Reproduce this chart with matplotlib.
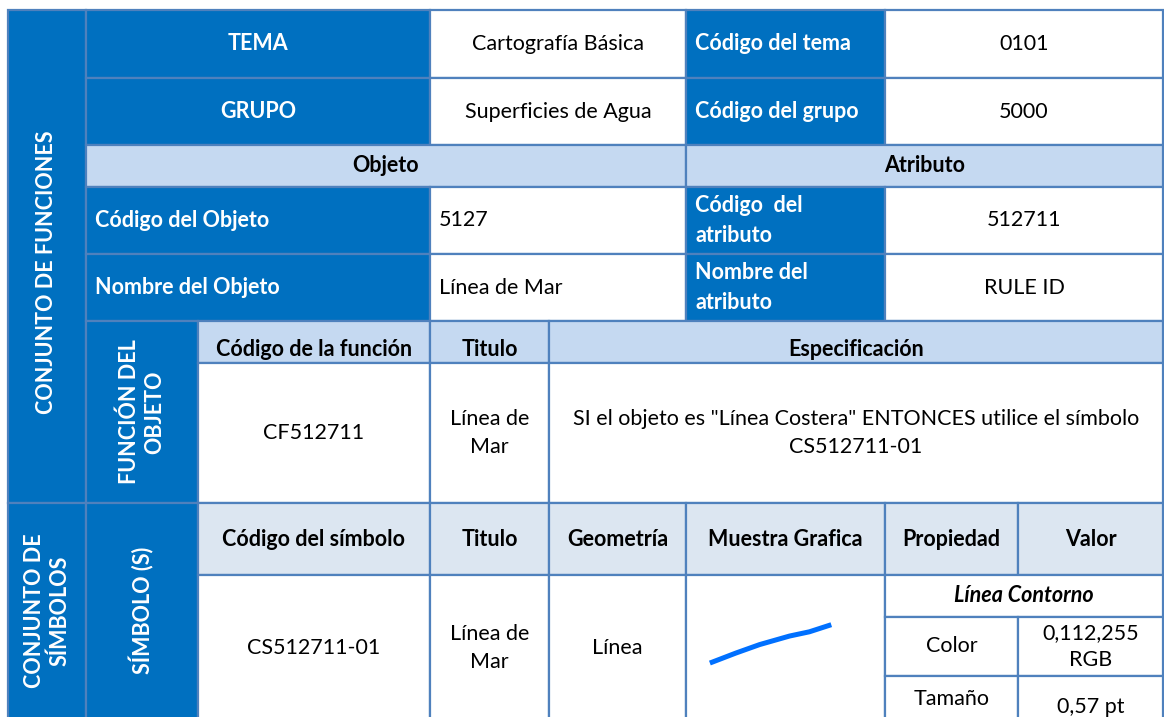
import matplotlib
matplotlib.use("Agg")
import matplotlib.pyplot as plt
from matplotlib.patches import Rectangle

plt.rcParams['font.family'] = ['Lato', 'DejaVu Sans']

# ---------------- data (texts) ----------------
tema_label, tema_value, tema_code_label, tema_code = "TEMA", "Cartografía Básica", "Código del tema", "0101"
grupo_label, grupo_value, grupo_code_label, grupo_code = "GRUPO", "Superficies de Agua", "Código del grupo", "5000"
section_headers = ["Objeto", "Atributo"]
objeto_labels = ["Código del Objeto", "Nombre del Objeto"]
objeto_values = ["5127", "Línea de Mar"]
atributo_labels = ["Código  del\natributo", "Nombre del\natributo"]
atributo_values = ["512711", "RULE ID"]
side_labels = ["CONJUNTO DE FUNCIONES", "CONJUNTO DE\nSÍMBOLOS"]
sub_side_labels = ["FUNCIÓN DEL\nOBJETO", "SÍMBOLO (S)"]
funcion_headers = ["Código de la función", "Titulo", "Especificación"]
funcion_values = ["CF512711", "Línea de\nMar",
                  "SI el objeto es \"Línea Costera\" ENTONCES utilice el símbolo\nCS512711-01"]
simbolo_headers = ["Código del símbolo", "Titulo", "Geometría", "Muestra Grafica", "Propiedad", "Valor"]
simbolo_values = ["CS512711-01", "Línea de\nMar", "Línea"]
propiedad_title = "Línea Contorno"
propiedades = ["Color", "Tamaño"]
valores = ["0,112,255\nRGB", "0,57 pt"]
# sample line of the graphic symbol (relative positions inside the sample cell, 0..1)
sample_x = [0.12, 0.25, 0.37, 0.52, 0.62, 0.73]
sample_y = [0.62, 0.55, 0.49, 0.43, 0.40, 0.35]
sample_rgb = (0, 112, 255)

# ---------------- layout ----------------
W, H = 1164, 717
X = [8, 86, 198, 430, 549, 686, 885, 1018, 1163]
Y = [10, 78, 145, 187, 254, 321, 363, 503, 575, 617, 676, 760]

DARK = "#0070C0"
LIGHT = "#C5D9F1"
LIGHTER = "#DCE6F1"
EDGE = "#4F81BD"
FS = 15.5

fig = plt.figure(figsize=(W / 100, H / 100), dpi=100)
ax = fig.add_axes([0, 0, 1, 1])
ax.set_xlim(0, W)
ax.set_ylim(H, 0)
ax.axis("off")


def cell(c0, c1, r0, r1, fc="white", text="", color="black", bold=False, italic=False,
         ha="center", rot=0, fs=FS, dy=0, ls=1.5):
    x0, x1, y0, y1 = X[c0], X[c1], Y[r0], Y[r1]
    ax.add_patch(Rectangle((x0, y0), x1 - x0, y1 - y0, facecolor=fc, edgecolor=EDGE,
                           lw=1.6, zorder=1))
    if text:
        tx = x0 + 9 if ha == "left" else (x0 + x1) / 2
        ty = (y0 + y1) / 2 + dy
        ax.text(tx, ty, text, ha=ha, va="center", color=color, fontsize=fs,
                fontweight="bold" if bold else "normal",
                fontstyle="italic" if italic else "normal",
                rotation=rot, linespacing=ls,
                multialignment="center" if ha == "center" else "left", zorder=3)


# side column
cell(0, 1, 0, 7, DARK, side_labels[0], "white", bold=True, rot=90, dy=16)
cell(0, 1, 7, 11, DARK, side_labels[1], "white", bold=True, rot=90, dy=-21, ls=1.25)

# rows 1-2
cell(1, 3, 0, 1, DARK, tema_label, "white", bold=True)
cell(3, 5, 0, 1, "white", tema_value)
cell(5, 6, 0, 1, DARK, tema_code_label, "white", bold=True, ha="left")
cell(6, 8, 0, 1, "white", tema_code)

cell(1, 3, 1, 2, DARK, grupo_label, "white", bold=True)
cell(3, 5, 1, 2, "white", grupo_value)
cell(5, 6, 1, 2, DARK, grupo_code_label, "white", bold=True, ha="left")
cell(6, 8, 1, 2, "white", grupo_code)

# section headers
cell(1, 5, 2, 3, LIGHT, section_headers[0], bold=True)
cell(5, 8, 2, 3, LIGHT, section_headers[1], bold=True)

# objeto / atributo rows
for i in range(2):
    r = 3 + i
    cell(1, 3, r, r + 1, DARK, objeto_labels[i], "white", bold=True, ha="left")
    cell(3, 5, r, r + 1, "white", objeto_values[i], ha="left")
    cell(5, 6, r, r + 1, DARK, atributo_labels[i], "white", bold=True, ha="left", ls=1.55)
    cell(6, 8, r, r + 1, "white", atributo_values[i])

# función del objeto
cell(1, 2, 5, 7, DARK, sub_side_labels[0], "white", bold=True, rot=90, ls=1.25)
cell(2, 3, 5, 6, LIGHT, funcion_headers[0], bold=True, dy=7)
cell(3, 4, 5, 6, LIGHT, funcion_headers[1], bold=True, dy=7)
cell(4, 8, 5, 6, LIGHT, funcion_headers[2], bold=True, dy=7)
cell(2, 3, 6, 7, "white", funcion_values[0])
cell(3, 4, 6, 7, "white", funcion_values[1])
cell(4, 8, 6, 7, "white", funcion_values[2])

# símbolo
cell(1, 2, 7, 11, DARK, sub_side_labels[1], "white", bold=True, rot=90, dy=-21)
for j, h in enumerate(simbolo_headers):
    cell(2 + j, 3 + j, 7, 8, LIGHTER, h, bold=True)
cell(2, 3, 8, 11, "white", simbolo_values[0], dy=-19)
cell(3, 4, 8, 11, "white", simbolo_values[1], dy=-19)
cell(4, 5, 8, 11, "white", simbolo_values[2], dy=-19)
cell(5, 6, 8, 11, "white")
# sample line
sx0, sx1 = X[5], X[6]
sy0, sy1 = Y[8], Y[8] + 142
ax.plot([sx0 + v * (sx1 - sx0) for v in sample_x],
        [sy0 + v * (sy1 - sy0) for v in sample_y],
        color=tuple(c / 255 for c in sample_rgb), lw=3.6, solid_capstyle="butt", zorder=3)

cell(6, 8, 8, 9, "white", propiedad_title, bold=True, italic=True)
cell(6, 7, 9, 10, "white", propiedades[0])
cell(7, 8, 9, 10, "white", valores[0], ls=1.4)
cell(6, 7, 10, 11, "white", propiedades[1], dy=-19)
cell(7, 8, 10, 11, "white", valores[1], dy=-11)

fig.savefig("out.png", dpi=100)
